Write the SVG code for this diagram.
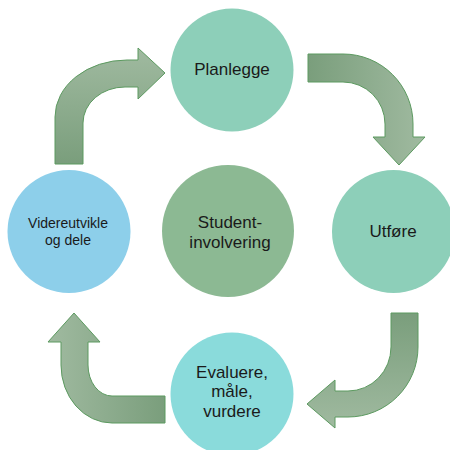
<svg xmlns="http://www.w3.org/2000/svg" width="450" height="450" viewBox="0 0 450 450">
<defs>
<linearGradient id="gR" x1="0" y1="0" x2="1" y2="0"><stop offset="0" stop-color="#7a9e7c"/><stop offset="1" stop-color="#a0baa0"/></linearGradient>
<linearGradient id="gL" x1="0" y1="0" x2="1" y2="0"><stop offset="0" stop-color="#a0baa0"/><stop offset="1" stop-color="#7a9e7c"/></linearGradient>
<linearGradient id="gD" x1="0" y1="0" x2="0" y2="1"><stop offset="0" stop-color="#7a9e7c"/><stop offset="1" stop-color="#a0baa0"/></linearGradient>
<linearGradient id="gU" x1="0" y1="0" x2="0" y2="1"><stop offset="0" stop-color="#a0baa0"/><stop offset="1" stop-color="#7a9e7c"/></linearGradient>
</defs>
<style>
.arr{stroke:#5c9a60;stroke-width:1;stroke-linejoin:miter}
.t{font-family:"Liberation Sans",Arial,sans-serif;fill:#1a1a1a;text-anchor:middle}
</style>
<rect width="450" height="450" fill="#ffffff"/>
<g id="connectors">
<path class="arr" fill="url(#gR)" d="M308,54 L343,54 A70,70 0 0 1 413,124 L413,137 L425,137 L399,165 L373,137 L385,137 L385,124 A42,42 0 0 0 343,82 L308,82 Z"/>
<path class="arr" fill="url(#gD)" d="M391,313 L418,313 L418,347 A70,70 0 0 1 348,417 L335,417 L335,428 L307,404 L335,380 L335,391 L348,391 A43,44 0 0 0 391,347 Z"/>
<path class="arr" fill="url(#gL)" d="M165,396 L165,423 L112,423 A51,58 0 0 1 61,365 L61,342 L48,342 L74,313 L100,342 L88,342 L88,365 A24,31 0 0 0 112,396 Z"/>
<path class="arr" fill="url(#gU)" d="M55,164 L55,117 A72,57 0 0 1 127,60 L138,60 L138,48 L165,73 L138,99 L138,87 L125,87 A42,36 0 0 0 83,123 L83,164 Z"/>
</g>
<g id="planlegge">
<circle cx="232" cy="70" r="61.5" fill="#8dcfb9"/>
<text class="t" x="232" y="75" font-size="17">Planlegge</text>
</g>
<g id="utfore">
<circle cx="393.5" cy="231.5" r="61.5" fill="#8dcfb9"/>
<text class="t" x="393" y="237" font-size="17">Utføre</text>
</g>
<g id="evaluere">
<circle cx="232" cy="394" r="61.5" fill="#8adbdb"/>
<text class="t" x="232" font-size="17"><tspan x="232" y="378">Evaluere,</tspan><tspan x="232" y="397">måle,</tspan><tspan x="232" y="417">vurdere</tspan></text>
</g>
<g id="videreutvikle">
<circle cx="69" cy="231.5" r="61.5" fill="#8dcfea"/>
<text class="t" font-size="14"><tspan x="68" y="228">Videreutvikle</tspan><tspan x="68" y="245">og dele</tspan></text>
</g>
<g id="student">
<circle cx="228" cy="231" r="66" fill="#8cb993"/>
<text class="t" font-size="17"><tspan x="230" y="228">Student-</tspan><tspan x="230" y="248">involvering</tspan></text>
</g>
</svg>
